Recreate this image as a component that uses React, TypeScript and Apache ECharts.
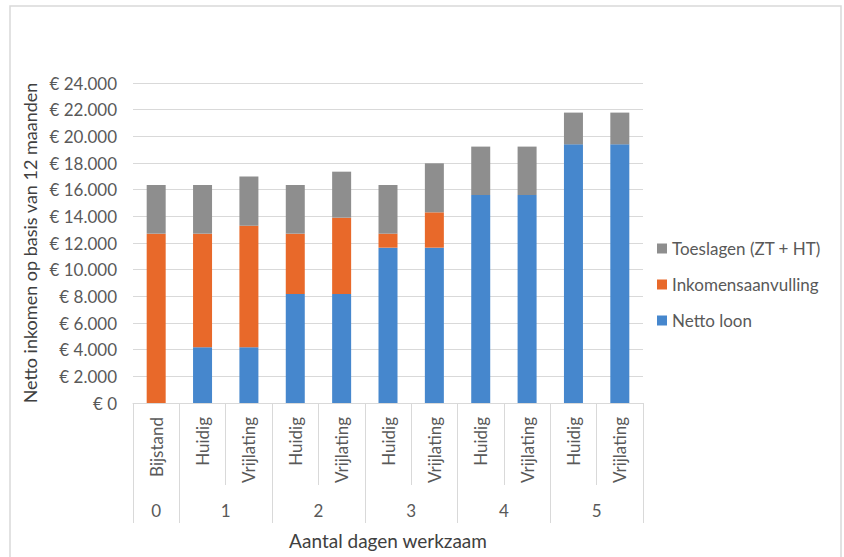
import React, { useEffect, useRef } from "react";
import * as echarts from "echarts";

const categories = ["Bijstand", "Huidig", "Vrijlating", "Huidig", "Vrijlating", "Huidig", "Vrijlating", "Huidig", "Vrijlating", "Huidig", "Vrijlating"];
const groupLabels = ["0", "1", "2", "3", "4", "5"];
const groupSizes = [1, 2, 2, 2, 2, 2];
const nettoLoon = [0, 4180, 4180, 8175, 8175, 11650, 11650, 15600, 15600, 19400, 19400];
const inkomensaanvulling = [12700, 8520, 9120, 4525, 5725, 1050, 2650, 0, 0, 0, 0];
const toeslagen = [3650, 3650, 3680, 3650, 3450, 3650, 3675, 3630, 3630, 2380, 2380];
const yTicks = { min: 0, max: 24000, interval: 2000 };

const FONT = "Lato, 'Open Sans', sans-serif";

export default function App() {
  const ref = useRef<HTMLDivElement>(null);
  useEffect(() => {
    if (!ref.current) return;
    const chart = echarts.init(ref.current, null, { renderer: "svg" });
    const bounds: number[] = [0];
    const centers: number[] = [];
    groupSizes.forEach((s) => {
      const start = bounds[bounds.length - 1];
      centers.push(start + s / 2);
      bounds.push(start + s);
    });
    const fmt = (v: number) =>
      "€ " + (v === 0 ? "0" : v.toString().replace(/\B(?=(\d{3})+(?!\d))/g, "."));
    chart.setOption({
      animation: false,
      textStyle: { fontFamily: FONT },
      graphic: [
        {
          type: "rect",
          shape: { x: 10, y: 6, width: 831, height: 580 },
          style: { fill: "none", stroke: "#d9d9d9", lineWidth: 1.5 },
          silent: true,
        },
      ],
      grid: { left: 133, right: 201, top: 83, bottom: 154 },
      legend: {
        orient: "vertical",
        left: 652,
        top: 235,
        itemWidth: 10,
        itemHeight: 10,
        itemGap: 19,
        icon: "rect",
        data: ["Toeslagen (ZT + HT)", "Inkomensaanvulling", "Netto loon"],
        textStyle: { fontFamily: FONT, fontSize: 17, color: "#595959" },
      },
      xAxis: [
        {
          type: "category",
          data: categories,
          axisLine: { lineStyle: { color: "#d9d9d9", width: 1 } },
          axisTick: { show: true, interval: 0, length: 82, lineStyle: { color: "#d9d9d9" } },
          axisLabel: {
            rotate: 90,
            interval: 0,
            margin: 14,
            fontSize: 17,
            color: "#595959",
            fontFamily: FONT,
          },
        },
        {
          type: "value",
          position: "bottom",
          min: 0,
          max: categories.length,
          axisLine: { show: false },
          splitLine: { show: false },
          axisTick: {
            show: true,
            length: 120,
            customValues: bounds,
            lineStyle: { color: "#d9d9d9" },
          },
          axisLabel: {
            customValues: centers,
            margin: 99,
            fontSize: 17,
            color: "#595959",
            fontFamily: FONT,
            formatter: (v: number) => {
              const i = centers.findIndex((c) => Math.abs(c - v) < 1e-6);
              return i >= 0 ? groupLabels[i] : "";
            },
          },
          name: "Aantal dagen werkzaam",
          nameLocation: "middle",
          nameGap: 128,
          nameTextStyle: { fontSize: 19, color: "#404040", fontFamily: FONT },
        },
      ],
      yAxis: {
        type: "value",
        min: yTicks.min,
        max: yTicks.max,
        interval: yTicks.interval,
        axisLine: { show: false },
        axisTick: { show: false },
        splitLine: { lineStyle: { color: "#d9d9d9", width: 1 } },
        axisLabel: { formatter: fmt, fontSize: 17, color: "#595959", margin: 16, fontFamily: FONT },
        name: "Netto inkomen op basis van 12 maanden",
        nameLocation: "middle",
        nameRotate: 90,
        nameGap: 89,
        nameTextStyle: { fontSize: 18, color: "#404040", fontFamily: FONT },
      },
      series: [
        {
          name: "Netto loon",
          type: "bar",
          stack: "total",
          barWidth: 19,
          data: nettoLoon,
          itemStyle: { color: "#4687CD" },
        },
        {
          name: "Inkomensaanvulling",
          type: "bar",
          stack: "total",
          barWidth: 19,
          data: inkomensaanvulling,
          itemStyle: { color: "#E8692A" },
        },
        {
          name: "Toeslagen (ZT + HT)",
          type: "bar",
          stack: "total",
          barWidth: 19,
          data: toeslagen,
          itemStyle: { color: "#8E8E8E" },
        },
      ],
    });
    return () => chart.dispose();
  }, []);
  return (
    <div
      ref={ref}
      style={{ position: "fixed", left: 0, top: 0, width: 844, height: 557, background: "#fff" }}
    />
  );
}
